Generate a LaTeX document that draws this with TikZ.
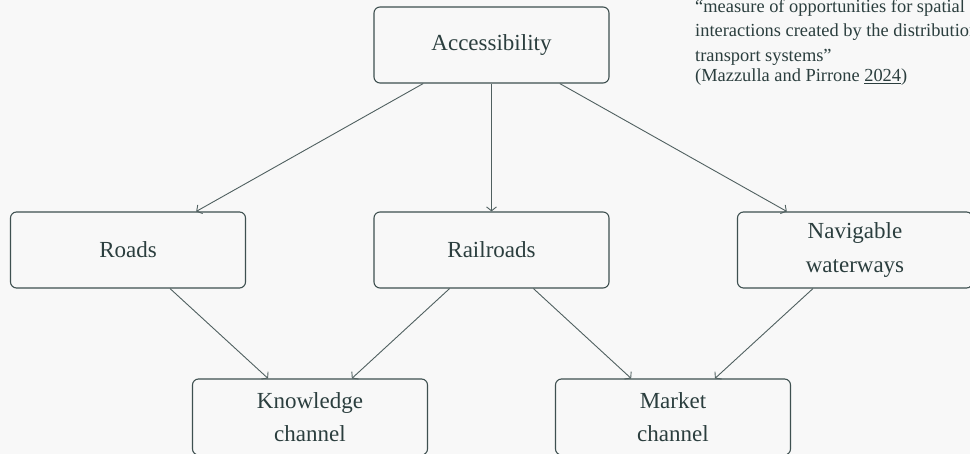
\documentclass[tikz,border=0pt]{standalone}
\usepackage{fontspec}
\setmainfont{Liberation Serif}
\usetikzlibrary{arrows.meta}
\definecolor{bg}{RGB}{248,248,248}
\definecolor{txt}{RGB}{43,62,62}
\definecolor{brd}{RGB}{62,80,80}
\definecolor{lnk}{RGB}{80,96,96}
\begin{document}
\begin{tikzpicture}[x=1pt,y=1pt,
  box/.style={draw=brd,line width=1.1pt,rounded corners=6pt,minimum width=235pt,minimum height=76pt,inner sep=0pt,text=txt,align=center,font=\fontsize{23}{33.5}\selectfont},
  link/.style={draw=lnk,line width=0.9pt,-{Straight Barb[length=4pt,width=10pt,line width=0.9pt]}},
  quote/.style={anchor=base west,inner sep=0pt,text=txt,font=\fontsize{18.4}{24}\selectfont}]
\fill[bg] (0,0) rectangle (970,454);
\useasboundingbox (0,0) rectangle (970,454);
\node[box] (acc) at (491.5,409) {Accessibility};
\node[box] (roads) at (128,204) {Roads};
\node[box] (rail) at (491.5,204) {Railroads};
\node[box] (nav) at (855,204) {Navigable\\waterways};
\node[box] (know) at (310,37) {Knowledge\\channel};
\node[box] (mkt) at (673,37) {Market\\channel};
\draw[link] (acc) -- (roads);
\draw[link] (acc) -- (rail);
\draw[link] (acc) -- (nav);
\draw[link] (roads) -- (know);
\draw[link] (rail) -- (know);
\draw[link] (rail) -- (mkt);
\draw[link] (nav) -- (mkt);
\node[quote] (q1) at (695,441) {“measure of opportunities for spatial};
\node[quote] (q2) at (695,417) {interactions created by the distribution of};
\node[quote] (q3) at (695,392.5) {transport systems”};
\node[quote] (q4) at (695,372) {(Mazzulla and Pirrone \underline{2024})};
\end{tikzpicture}
\end{document}
